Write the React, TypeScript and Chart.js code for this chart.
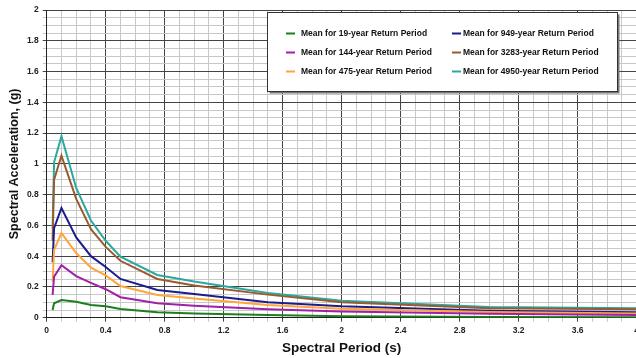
import React, { useEffect, useRef } from "react";
import { Chart, registerables } from "chart.js";

Chart.register(...registerables);

// Spectral periods (s)
const periods = [0.04, 0.05, 0.1, 0.2, 0.3, 0.4, 0.5, 0.75, 1.0, 1.5, 2.0, 3.0, 4.0];

const seriesLabels = [
  "Mean for 19-year Return Period",
  "Mean for 144-year Return Period",
  "Mean for 475-year Return Period",
  "Mean for 949-year Return Period",
  "Mean for 3283-year Return Period",
  "Mean for 4950-year Return Period",
];

const seriesColors = ["#1e7d1e", "#a020a8", "#ffa53a", "#1c1c8c", "#9a5a30", "#2aa9a0"];

const rp19 = [0.05, 0.094, 0.115, 0.104, 0.083, 0.075, 0.057, 0.035, 0.028, 0.018, 0.009, 0.005, 0.003];
const rp144 = [0.148, 0.267, 0.341, 0.27, 0.226, 0.185, 0.133, 0.094, 0.078, 0.055, 0.04, 0.025, 0.018];
const rp475 = [0.235, 0.44, 0.55, 0.42, 0.325, 0.275, 0.206, 0.148, 0.125, 0.083, 0.058, 0.037, 0.028];
const rp949 = [0.36, 0.582, 0.713, 0.522, 0.4, 0.33, 0.252, 0.18, 0.154, 0.1, 0.074, 0.045, 0.035];
const rp3283 = [0.5, 0.897, 1.053, 0.772, 0.575, 0.46, 0.37, 0.252, 0.21, 0.15, 0.1, 0.062, 0.055];
const rp4950 = [0.58, 1.01, 1.18, 0.843, 0.632, 0.5, 0.397, 0.278, 0.235, 0.16, 0.11, 0.07, 0.062];

const allSeries = [rp19, rp144, rp475, rp949, rp3283, rp4950];

const xTickLabelsEvery = 0.4;
const yTickLabelsEvery = 0.2;

const FONT = "'Liberation Sans', Arial, sans-serif";

const boxLegend = {
  id: "boxLegend",
  afterDatasetsDraw(chart: any) {
    const ctx = chart.ctx;
    const left = 267.5;
    const top = 12.5;
    const w = 350;
    const h = 79;
    ctx.save();
    ctx.fillStyle = "#777";
    ctx.fillRect(left + 2, top + 2, w, h);
    ctx.fillStyle = "#ffffff";
    ctx.fillRect(left, top, w, h);
    ctx.strokeStyle = "#333";
    ctx.lineWidth = 1;
    ctx.strokeRect(left, top, w, h);
    const rows = [33.5, 52.5, 71.5];
    const cols = [
      { lx: 286, tx: 301 },
      { lx: 452, tx: 463 },
    ];
    ctx.font = `bold 8.5px ${FONT}`;
    ctx.textBaseline = "middle";
    ctx.textAlign = "left";
    chart.data.datasets.forEach((ds: any, i: number) => {
      const c = cols[Math.floor(i / 3)];
      const y = rows[i % 3];
      ctx.strokeStyle = ds.borderColor;
      ctx.lineWidth = 2;
      ctx.beginPath();
      ctx.moveTo(c.lx, y);
      ctx.lineTo(c.lx + 9, y);
      ctx.stroke();
      ctx.fillStyle = "#111";
      ctx.fillText(ds.label, c.tx, y);
    });
    ctx.restore();
  },
};

export default function App() {
  const ref = useRef<HTMLCanvasElement | null>(null);

  useEffect(() => {
    const canvas = ref.current;
    if (!canvas) return;
    const datasets = allSeries.map((vals, i) => ({
      label: seriesLabels[i],
      data: vals.map((v, j) => ({ x: periods[j], y: v })),
      borderColor: seriesColors[i],
      backgroundColor: seriesColors[i],
      borderWidth: 2,
      pointRadius: 0,
      tension: 0,
      fill: false,
    }));

    const isMajorX = (v: number) => Math.round(v * 10) % Math.round(xTickLabelsEvery * 10) === 0;
    const isMajorY = (v: number) => Math.round(v * 20) % Math.round(yTickLabelsEvery * 20) === 0;

    const chart = new Chart(canvas, {
      type: "line",
      data: { datasets },
      plugins: [boxLegend],
      options: {
        animation: false,
        responsive: false,
        maintainAspectRatio: false,
        layout: { padding: { top: 10, right: 0, left: 0, bottom: 0 } },
        plugins: {
          legend: { display: false },
          tooltip: { enabled: false },
        },
        scales: {
          x: {
            type: "linear",
            min: 0,
            max: 4,
            afterFit: (s: any) => {
              s.height = 40.3;
            },
            ticks: {
              stepSize: 0.1,
              autoSkip: false,
              maxRotation: 0,
              padding: 4,
              color: "#222",
              font: { family: FONT, size: 8.5, weight: "bold" },
              callback: (v: any) => (isMajorX(Number(v)) ? String(Math.round(Number(v) * 10) / 10) : ""),
            },
            grid: {
              color: (c: any) => (isMajorX(c.tick?.value ?? 0) ? "#444" : "#c8c8c8"),
              tickLength: 4,
              drawTicks: true,
            },
            border: { color: "#222", width: 1 },
            title: {
              display: true,
              text: "Spectral Period (s)",
              color: "#111",
              font: { family: FONT, size: 13.5, weight: "bold" },
              padding: { top: 0, bottom: 2 },
            },
          },
          y: {
            type: "linear",
            min: 0,
            max: 2,
            afterFit: (s: any) => {
              s.width = 46.7;
            },
            ticks: {
              stepSize: 0.05,
              autoSkip: false,
              padding: 4,
              color: "#222",
              font: { family: FONT, size: 8.5, weight: "bold" },
              callback: (v: any) => (isMajorY(Number(v)) ? String(Math.round(Number(v) * 10) / 10) : ""),
            },
            grid: {
              color: (c: any) => (isMajorY(c.tick?.value ?? 0) ? "#444" : "#c8c8c8"),
              tickLength: 4,
              drawTicks: true,
            },
            border: { color: "#222", width: 1 },
            title: {
              display: true,
              text: "Spectral Acceleration, (g)",
              color: "#111",
              font: { family: FONT, size: 12.5, weight: "bold" },
              padding: { top: 7, bottom: 0 },
            },
          },
        },
      },
    });
    return () => chart.destroy();
  }, []);

  return (
    <div
      style={{
        position: "fixed",
        left: 0,
        top: 0,
        width: 636,
        height: 358,
        overflow: "hidden",
        background: "#fff",
      }}
    >
      <canvas ref={ref} width={643} height={358} style={{ width: 643, height: 358, display: "block" }} />
    </div>
  );
}
